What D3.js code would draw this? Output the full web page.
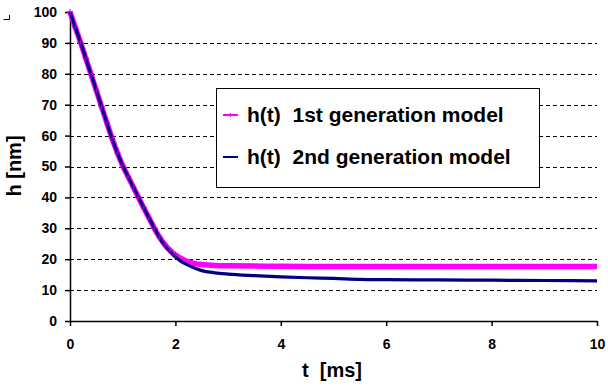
<!DOCTYPE html>
<html><head><meta charset="utf-8">
<script src="https://cdn.jsdelivr.net/npm/d3@7"></script>
<style>
html,body{margin:0;padding:0;background:#fff;}
svg{display:block;}
text{font-family:"Liberation Sans",Arial,sans-serif;font-weight:bold;fill:#000;white-space:pre;}
</style></head>
<body>
<svg id="c" width="608" height="392"></svg>
<script>
// ---- data ----
const tValues1 = [0,0.1,0.2,0.3,0.4,0.5,0.6,0.7,0.8,0.9,1.0,1.1,1.2,1.3,1.4,1.5,1.6,1.7,1.8,1.9,2.0,2.1,2.2,2.3,2.4,2.5,2.75,3.0,3.5,4,5,6,7,8,9,10];
const hGen1   = [100,95,90.2,85,79.8,74.6,69.3,64.1,59.0,54.4,50.3,46.8,43.4,40.0,36.6,33.3,30.0,27.1,24.7,22.8,21.4,20.3,19.5,18.9,18.5,18.3,18.0,17.9,17.8,17.7,17.65,17.6,17.6,17.6,17.6,17.6];
const tValues2 = [0,0.1,0.2,0.3,0.4,0.5,0.6,0.7,0.8,0.9,1.0,1.1,1.2,1.3,1.4,1.5,1.6,1.7,1.8,1.9,2.0,2.1,2.2,2.3,2.4,2.5,2.75,3.0,3.5,4,4.5,5,5.5,6,7,8,9,10];
const hGen2   = [100,95,90.2,85,79.8,74.6,69.3,64.1,59.0,54.4,50.3,46.8,43.4,40.0,36.6,33.3,30.0,27.0,24.4,22.4,20.7,19.4,18.4,17.6,16.9,16.3,15.6,15.2,14.7,14.3,14.0,13.8,13.5,13.4,13.3,13.2,13.1,13.0];
const seriesNames = ["h(t)  1st generation model","h(t)  2nd generation model"];
const seriesColors = ["#ff00ff","#000080"];
const xTicks = [0,2,4,6,8,10];
const yTicks = [0,10,20,30,40,50,60,70,80,90,100];
const xTitle = "t  [ms]";
const yTitle = "h [nm]";

// ---- chart ----
const svg = d3.select("#c");
const x = d3.scaleLinear().domain([0,10]).range([70,597]);
const y = d3.scaleLinear().domain([0,100]).range([321,12]);

// small corner mark
svg.append("path").attr("d","M3.5,19.5H9.5V15").attr("fill","none").attr("stroke","#000").attr("stroke-width",1);

// gridlines
svg.append("g").selectAll("line").data(yTicks.filter(d=>d>0 && d<100)).join("line")
  .attr("x1",x(0)).attr("x2",x(10))
  .attr("y1",d=>Math.round(y(d))+0.5).attr("y2",d=>Math.round(y(d))+0.5)
  .attr("stroke","#000").attr("stroke-width",1).attr("stroke-dasharray","4,3");

// axes
const yAxis = d3.axisLeft(y).tickValues(yTicks).tickSize(5).tickSizeOuter(0).tickPadding(8);
const gy = svg.append("g").attr("transform",`translate(${x(0)},0)`).call(yAxis);
const xAxis = d3.axisBottom(x).tickValues(xTicks).tickSize(5).tickSizeOuter(0).tickPadding(13);
const gx = svg.append("g").attr("transform",`translate(0,${y(0)})`).call(xAxis);
[gx,gy].forEach(g=>{
  g.select(".domain").attr("stroke","#000").attr("stroke-width",1.5);
  g.selectAll(".tick line").attr("stroke","#000").attr("stroke-width",1.5);
  g.selectAll(".tick text").attr("font-size",14).attr("font-family","'Liberation Sans',Arial,sans-serif").attr("font-weight","bold").attr("fill","#000");
});

// lines
const line = d3.line().curve(d3.curveMonotoneX);
const pts1 = tValues1.map((t,i)=>[x(t),y(hGen1[i])]);
const pts2 = tValues2.map((t,i)=>[x(t),y(hGen2[i])]);
svg.append("path").attr("d",line(pts1)).attr("fill","none").attr("stroke",seriesColors[0]).attr("stroke-width",5.5).attr("stroke-linejoin","round");
svg.append("path").attr("d",line(pts2)).attr("fill","none").attr("stroke",seriesColors[1]).attr("stroke-width",3.2).attr("stroke-linejoin","round");
// + markers for series 1 (descent)
svg.append("g").selectAll("path").data(pts1.filter((p,i)=>tValues1[i]<=2.0)).join("path")
  .attr("d",p=>`M${p[0]-3},${p[1]}H${p[0]+3}M${p[0]},${p[1]-3}V${p[1]+3}`)
  .attr("stroke","#9900cc").attr("stroke-width",1).attr("fill","none");

// axis titles
svg.append("text").attr("x",332).attr("y",377).attr("text-anchor","middle").attr("font-size",20).text(xTitle);
svg.append("text").attr("transform","translate(21,166) rotate(-90)").attr("text-anchor","middle").attr("font-size",20).text(yTitle);

// legend
const lg = svg.append("g");
lg.append("rect").attr("x",216.5).attr("y",88.5).attr("width",323).attr("height",99).attr("fill","#fff").attr("stroke","#000").attr("stroke-width",1);
const ly = [115,157];
seriesNames.forEach((n,i)=>{
  lg.append("line").attr("x1",223).attr("x2",238).attr("y1",ly[i]).attr("y2",ly[i]).attr("stroke",seriesColors[i]).attr("stroke-width",2);
  if(i===0) lg.append("path").attr("d",`M230.5,${ly[i]-2}V${ly[i]+2}`).attr("stroke",seriesColors[i]).attr("stroke-width",1);
  lg.append("text").attr("x",247).attr("y",ly[i]+7).attr("font-size",21).text(n);
});
</script>
</body></html>
